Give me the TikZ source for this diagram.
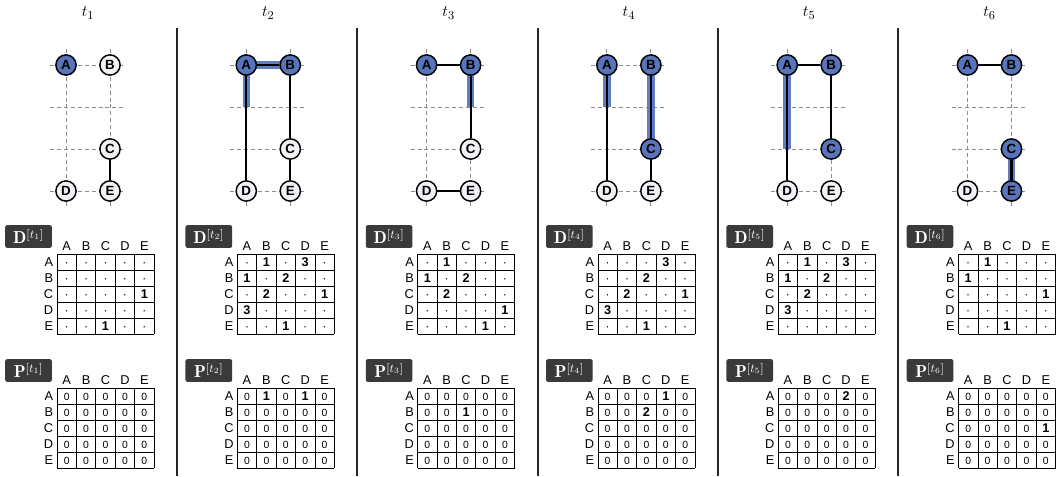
\documentclass[tikz,border=0pt]{standalone}
\usepackage{fontspec}
\setsansfont{Liberation Sans}
\pgfdeclarelayer{gridlayer}
\pgfdeclarelayer{barlayer}
\pgfsetlayers{gridlayer,barlayer,main}
\definecolor{nodeblue}{RGB}{88,116,186}
\definecolor{nodewhite}{RGB}{243,241,246}
\definecolor{barblue}{RGB}{96,126,198}
\definecolor{labelbg}{RGB}{58,58,58}
\definecolor{dashgray}{RGB}{140,140,140}
\tikzset{
  gnode/.style={circle, draw=black, line width=1.1pt, minimum size=15.2pt, inner sep=0pt,
    font=\sffamily\bfseries\fontsize{10}{10}\selectfont},
  gon/.style={gnode, fill=nodeblue},
  goff/.style={gnode, fill=nodewhite},
  lnk/.style={line width=1.6pt, black},
  hbar/.style={line width=5.6pt, barblue},
  dgrid/.style={dashgray, dash pattern=on 3pt off 2.2pt, line width=0.75pt},
  colsep/.style={line width=1.5pt, black!85},
  ttl/.style={font=\fontsize{12.5}{14}\selectfont, inner sep=0pt},
  mlabel/.style={fill=labelbg, text=white, rounded corners=1.5pt, minimum width=35pt,
    minimum height=17pt, inner sep=1pt, font=\fontsize{13}{14}\selectfont},
  hdr/.style={font=\sffamily\fontsize{9.6}{10}\selectfont, inner sep=0pt},
  mline/.style={line width=0.6pt, black},
  mcell/.style={inner sep=0pt, text height=6.5pt, text depth=0pt},
  dotcell/.style={font=\sffamily\fontsize{9}{9}\selectfont},
  zerocell/.style={font=\sffamily\fontsize{7.8}{8}\selectfont},
  bnum/.style={font=\sffamily\bfseries\fontsize{9.5}{10}\selectfont},
}
\newcommand\GraphBg{%
  \begin{pgfonlayer}{gridlayer}
    \foreach \yy in {65,107,149,191} \draw[dgrid] (50,\yy) -- (126,\yy);
    \foreach \xx in {66,110} \draw[dgrid] (\xx,49) -- (\xx,208);
  \end{pgfonlayer}}
\newcommand\GNodes[6]{%
  \node[#2] (A#1) at (66,65) {A};
  \node[#3] (B#1) at (110,65) {B};
  \node[#4] (C#1) at (110,149) {C};
  \node[#5] (D#1) at (66,191) {D};
  \node[#6] (E#1) at (110,191) {E};
  \coordinate (ma#1) at (66,107);
  \coordinate (mb#1) at (110,107);
  \coordinate (la#1) at (66,149);
  \node[ttl] (T#1) at (88,13) {$t_#1$};}
\newcommand\Mat[5]{%
  \foreach \h [count=\j from 0] in {A,B,C,D,E}{
    \node[hdr] (#1h\j) at ({66.7+19.4*\j}, {#2-8}) {\h};
    \node[hdr, anchor=east] (#1r\j) at (53.5, {#2+8+16*\j}) {\h};
  }
  \foreach \k in {0,...,5}{
    \draw[mline] ({57+19.4*\k}, #2) -- ({57+19.4*\k}, {#2+80});
    \draw[mline] (57, {#2+16*\k}) -- (154, {#2+16*\k});
  }
  \foreach \row [count=\i from 0] in {#3}{
    \foreach \v [count=\j from 0] in \row {
      \ifnum\v=0
        \node[mcell,#5] (#1c\i\j) at ({66.7+19.4*\j}, {#2+8+16*\i}) {#4};
      \else
        \node[mcell,bnum] (#1c\i\j) at ({66.7+19.4*\j}, {#2+8+16*\i}) {\v};
      \fi
    }
  }}
\newcommand\Labels[1]{%
  \node[mlabel] (LD#1) at (28.5,236.5) {$\mathbf{D}^{[t_#1]}$};
  \node[mlabel] (LP#1) at (28.5,370.5) {$\mathbf{P}^{[t_#1]}$};}
\begin{document}
\begin{tikzpicture}[x=0.75pt,y=-0.75pt]
\useasboundingbox (0,0) rectangle (1061,476);
\foreach \k in {0,...,4} \draw[colsep] ({177+180.3*\k},28) -- ({177+180.3*\k},476);
% panel 1
\begin{scope}
  \GraphBg
  \GNodes{1}{gon}{goff}{goff}{goff}{goff}
  \draw[lnk] (C1) -- (E1);
  \Labels{1}
  \Mat{DM1}{254}{{0,0,0,0,0},{0,0,0,0,0},{0,0,0,0,1},{0,0,0,0,0},{0,0,1,0,0}}{·}{dotcell}
  \Mat{PM1}{388}{{0,0,0,0,0},{0,0,0,0,0},{0,0,0,0,0},{0,0,0,0,0},{0,0,0,0,0}}{0}{zerocell}
\end{scope}
% panel 2
\begin{scope}[shift={(180.3,0)}]
  \GraphBg
  \GNodes{2}{gon}{gon}{goff}{goff}{goff}
  \begin{pgfonlayer}{barlayer}
    \draw[hbar] (A2.center) -- (B2.center);
    \draw[hbar] (A2.center) -- (ma2);
  \end{pgfonlayer}
  \draw[lnk] (A2) -- (B2);
  \draw[lnk] (A2) -- (D2);
  \draw[lnk] (B2) -- (C2);
  \draw[lnk] (C2) -- (E2);
  \Labels{2}
  \Mat{DM2}{254}{{0,1,0,3,0},{1,0,2,0,0},{0,2,0,0,1},{3,0,0,0,0},{0,0,1,0,0}}{·}{dotcell}
  \Mat{PM2}{388}{{0,1,0,1,0},{0,0,0,0,0},{0,0,0,0,0},{0,0,0,0,0},{0,0,0,0,0}}{0}{zerocell}
\end{scope}
% panel 3
\begin{scope}[shift={(360.6,0)}]
  \GraphBg
  \GNodes{3}{gon}{gon}{goff}{goff}{goff}
  \begin{pgfonlayer}{barlayer}
    \draw[hbar] (B3.center) -- (mb3);
  \end{pgfonlayer}
  \draw[lnk] (A3) -- (B3);
  \draw[lnk] (B3) -- (C3);
  \draw[lnk] (D3) -- (E3);
  \Labels{3}
  \Mat{DM3}{254}{{0,1,0,0,0},{1,0,2,0,0},{0,2,0,0,0},{0,0,0,0,1},{0,0,0,1,0}}{·}{dotcell}
  \Mat{PM3}{388}{{0,0,0,0,0},{0,0,1,0,0},{0,0,0,0,0},{0,0,0,0,0},{0,0,0,0,0}}{0}{zerocell}
\end{scope}
% panel 4
\begin{scope}[shift={(540.9,0)}]
  \GraphBg
  \GNodes{4}{gon}{gon}{gon}{goff}{goff}
  \begin{pgfonlayer}{barlayer}
    \draw[hbar] (A4.center) -- (ma4);
    \draw[hbar] (B4.center) -- (C4.center);
  \end{pgfonlayer}
  \draw[lnk] (A4) -- (D4);
  \draw[lnk] (B4) -- (C4);
  \draw[lnk] (C4) -- (E4);
  \Labels{4}
  \Mat{DM4}{254}{{0,0,0,3,0},{0,0,2,0,0},{0,2,0,0,1},{3,0,0,0,0},{0,0,1,0,0}}{·}{dotcell}
  \Mat{PM4}{388}{{0,0,0,1,0},{0,0,2,0,0},{0,0,0,0,0},{0,0,0,0,0},{0,0,0,0,0}}{0}{zerocell}
\end{scope}
% panel 5
\begin{scope}[shift={(721.2,0)}]
  \GraphBg
  \GNodes{5}{gon}{gon}{gon}{goff}{goff}
  \begin{pgfonlayer}{barlayer}
    \draw[hbar] (A5.center) -- (la5);
  \end{pgfonlayer}
  \draw[lnk] (A5) -- (B5);
  \draw[lnk] (B5) -- (C5);
  \draw[lnk] (A5) -- (D5);
  \Labels{5}
  \Mat{DM5}{254}{{0,1,0,3,0},{1,0,2,0,0},{0,2,0,0,0},{3,0,0,0,0},{0,0,0,0,0}}{·}{dotcell}
  \Mat{PM5}{388}{{0,0,0,2,0},{0,0,0,0,0},{0,0,0,0,0},{0,0,0,0,0},{0,0,0,0,0}}{0}{zerocell}
\end{scope}
% panel 6
\begin{scope}[shift={(901.5,0)}]
  \GraphBg
  \GNodes{6}{gon}{gon}{gon}{goff}{gon}
  \begin{pgfonlayer}{barlayer}
    \draw[hbar] (C6.center) -- (E6.center);
  \end{pgfonlayer}
  \draw[lnk] (A6) -- (B6);
  \draw[lnk] (C6) -- (E6);
  \Labels{6}
  \Mat{DM6}{254}{{0,1,0,0,0},{1,0,0,0,0},{0,0,0,0,1},{0,0,0,0,0},{0,0,1,0,0}}{·}{dotcell}
  \Mat{PM6}{388}{{0,0,0,0,0},{0,0,0,0,0},{0,0,0,0,1},{0,0,0,0,0},{0,0,0,0,0}}{0}{zerocell}
\end{scope}
\end{tikzpicture}
\end{document}
